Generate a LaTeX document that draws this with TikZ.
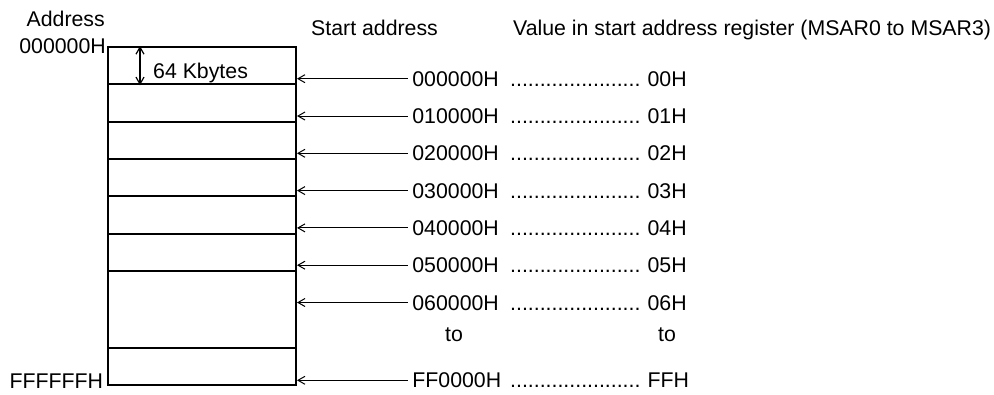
\documentclass[tikz,border=0pt]{standalone}
\usepackage{fontspec}
\setmainfont{Liberation Sans}
\usetikzlibrary{arrows.meta,positioning}
\newcommand{\leaderdots}{......................}

\begin{document}
\begin{tikzpicture}[x=1pt, y=-1pt,
  blk/.style={rectangle, draw, line width=2pt, minimum width=188pt, inner sep=0pt},
  txt/.style={font=\fontsize{21.3}{25}\selectfont, inner xsep=2pt, inner ysep=0pt, text height=15.25pt, text depth=0pt},
  adr/.style={txt, anchor=west, outer xsep=2.7pt},
  arr/.style={-{Straight Barb[length=7pt, width=8pt]}, line width=1pt},
  dbl/.style={{Straight Barb[length=7pt, width=8pt]}-{Straight Barb[length=7pt, width=8pt]}, line width=1.2pt}
]
  \useasboundingbox (0,0) rectangle (994,394);
  % ---------------- memory blocks ----------------
  \node[blk, minimum height=37.3pt] (blk0) at (202,65.65) {};
  \node[blk, minimum height=37.3pt] (blk1) at (202,102.95) {};
  \node[blk, minimum height=37.3pt] (blk2) at (202,140.25) {};
  \node[blk, minimum height=37.3pt] (blk3) at (202,177.55) {};
  \node[blk, minimum height=37.3pt] (blk4) at (202,214.85) {};
  \node[blk, minimum height=37.3pt] (blk5) at (202,252.15) {};
  \node[blk, minimum height=77.6pt] (blk6) at (202,309.6) {};
  \node[blk, minimum height=36.7pt] (blk7) at (202,366.75) {};
  % headings and address limits
  \node[txt, anchor=east] (addr) at (107,19.2) {Address};
  \node[txt, anchor=west] (start) at (309,27.8) {Start address};
  \node[txt, anchor=west] (value) at (511,27.8) {Value in start address register (MSAR0 to MSAR3)};
  \node[txt, anchor=east] (low) at (108,46.3) {000000H};
  \node[txt, anchor=east] (high) at (105.3,380.8) {FFFFFFH};
  \node[txt, anchor=west] (size) at (151,70.5) {64 Kbytes};
  % ---------------- start addresses and register values ----------------
  \node[adr] (sa0) at (407.7,78.7) {000000H};
  \node[txt, anchor=west] (dt0) at (508,78.7) {\leaderdots};
  \node[txt, anchor=west] (rv0) at (645.4,78.7) {00H};
  \node[adr] (sa1) at (407.7,116.0) {010000H};
  \node[txt, anchor=west] (dt1) at (508,116.0) {\leaderdots};
  \node[txt, anchor=west] (rv1) at (645.4,116.0) {01H};
  \node[adr] (sa2) at (407.7,153.3) {020000H};
  \node[txt, anchor=west] (dt2) at (508,153.3) {\leaderdots};
  \node[txt, anchor=west] (rv2) at (645.4,153.3) {02H};
  \node[adr] (sa3) at (407.7,190.6) {030000H};
  \node[txt, anchor=west] (dt3) at (508,190.6) {\leaderdots};
  \node[txt, anchor=west] (rv3) at (645.4,190.6) {03H};
  \node[adr] (sa4) at (407.7,227.9) {040000H};
  \node[txt, anchor=west] (dt4) at (508,227.9) {\leaderdots};
  \node[txt, anchor=west] (rv4) at (645.4,227.9) {04H};
  \node[adr] (sa5) at (407.7,265.2) {050000H};
  \node[txt, anchor=west] (dt5) at (508,265.2) {\leaderdots};
  \node[txt, anchor=west] (rv5) at (645.4,265.2) {05H};
  \node[adr] (sa6) at (407.7,302.5) {060000H};
  \node[txt, anchor=west] (dt6) at (508,302.5) {\leaderdots};
  \node[txt, anchor=west] (rv6) at (645.4,302.5) {06H};
  \node[txt] (to1) at (454,334.2) {to};
  \node[txt] (to2) at (667,334.2) {to};
  \node[adr] (sa7) at (407.7,380.3) {FF0000H};
  \node[txt, anchor=west] (dt7) at (508,380.3) {\leaderdots};
  \node[txt, anchor=west] (rv7) at (645.4,380.3) {FFH};
  % ---------------- arrows ----------------
  \draw[dbl] ([xshift=-62pt]blk0.north) -- ([xshift=-62pt]blk0.south);
  \draw[arr] (sa0.west) -- (sa0.west -| blk0.east);
  \draw[arr] (sa1.west) -- (sa1.west -| blk1.east);
  \draw[arr] (sa2.west) -- (sa2.west -| blk2.east);
  \draw[arr] (sa3.west) -- (sa3.west -| blk3.east);
  \draw[arr] (sa4.west) -- (sa4.west -| blk4.east);
  \draw[arr] (sa5.west) -- (sa5.west -| blk5.east);
  \draw[arr] (sa6.west) -- (sa6.west -| blk6.east);
  \draw[arr] (sa7.west) -- (sa7.west -| blk7.east);
\end{tikzpicture}
\end{document}
